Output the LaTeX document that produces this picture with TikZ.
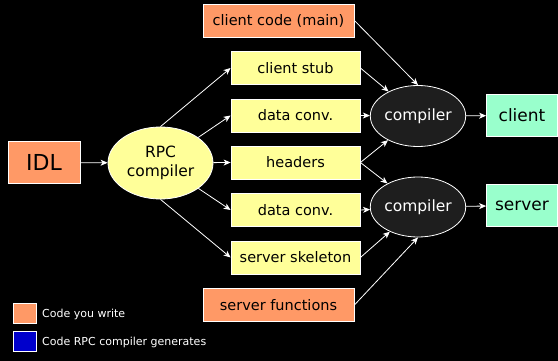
\documentclass[tikz,border=0pt]{standalone}
\usepackage{fontspec}
\setmainfont{DejaVu Sans}
\usetikzlibrary{shapes.geometric,arrows.meta}
\definecolor{orng}{HTML}{FF9966}
\definecolor{ylw}{HTML}{FFFF99}
\definecolor{mint}{HTML}{99FFCC}
\definecolor{dark}{HTML}{1E1E1E}
\definecolor{lgblue}{HTML}{0000CC}
\tikzset{
  box/.style={rectangle,draw=white,line width=0.8pt,inner sep=0pt,text=black,font=\fontsize{14.5}{16}\selectfont},
  genbox/.style={box,fill=ylw,minimum width=129pt,minimum height=33pt},
  youbox/.style={box,fill=orng,minimum width=151pt,minimum height=33pt},
  outbox/.style={box,fill=mint,minimum width=71pt,minimum height=42pt,font=\fontsize{17}{19}\selectfont},
  comp/.style={ellipse,draw=white,line width=0.8pt,fill=dark,text=white,inner sep=0pt,minimum width=90pt,minimum height=61pt,font=\fontsize{15.5}{17}\selectfont},
  arr/.style={draw=white,line width=0.8pt,-{Stealth[length=7pt,width=6pt,inset=2pt]}},
  legsq/.style={rectangle,draw=white,line width=0.8pt,minimum width=23pt,minimum height=20pt,inner sep=0pt},
  legtxt/.style={text=white,anchor=west,inner sep=0pt,font=\fontsize{11}{13}\selectfont}
}
\begin{document}
\begin{tikzpicture}[x=1pt,y=-1pt]
\fill[black] (0,0) rectangle (558,361);
\useasboundingbox (0,0) rectangle (558,361);
\node[box,fill=orng,minimum width=72pt,minimum height=42pt,font=\fontsize{22}{24}\selectfont] (idl) at (44,162.5) {IDL};
\node[ellipse,draw=white,line width=0.8pt,fill=ylw,inner sep=0pt,minimum width=105pt,minimum height=72pt,align=center,font=\fontsize{15.5}{19}\selectfont] (rpc) at (160.5,163) {RPC\\compiler};
\node[youbox] (ccode) at (278.5,20.5) {client code (main)};
\node[genbox] (stub) at (295.5,68) {client stub};
\node[genbox] (dc1) at (295.5,115.5) {data conv.};
\node[genbox] (hdr) at (295.5,162.5) {headers};
\node[genbox] (dc2) at (295.5,210) {data conv.};
\node[genbox] (skel) at (295.5,257.5) {server skeleton};
\node[youbox] (sfun) at (278.5,305) {server functions};
\node[comp] (c1) at (418,116) {compiler};
\node[comp,minimum height=60pt] (c2) at (418,207) {compiler};
\node[outbox] (client) at (522,115.5) {client};
\node[outbox] (server) at (522,205.5) {server};
\node[legsq,fill=orng] (lg1) at (24.5,313) {};
\node[legsq,fill=lgblue] (lg2) at (24.5,341.7) {};
\node[legtxt] (lt1) at (42,314) {Code you write};
\node[legtxt] (lt2) at (42,342.5) {Code RPC compiler generates};
\draw[arr] (idl) -- (rpc);
\draw[arr] (rpc.north) -- (stub.west);
\draw[arr] (rpc) -- (dc1.west);
\draw[arr] (rpc) -- (hdr.west);
\draw[arr] (rpc) -- (dc2.west);
\draw[arr] (rpc.south) -- (skel.west);
\draw[arr] (ccode.east) -- (c1.north);
\draw[arr] (stub.east) -- (c1);
\draw[arr] (dc1.east) -- (c1);
\draw[arr] (hdr.east) -- (c1);
\draw[arr] (hdr.east) -- (c2);
\draw[arr] (dc2.east) -- (c2);
\draw[arr] (skel.east) -- (c2);
\draw[arr] (sfun.east) -- (c2.south);
\draw[arr] (c1) -- (client);
\draw[arr] (c2) -- (server);
\end{tikzpicture}
\end{document}
